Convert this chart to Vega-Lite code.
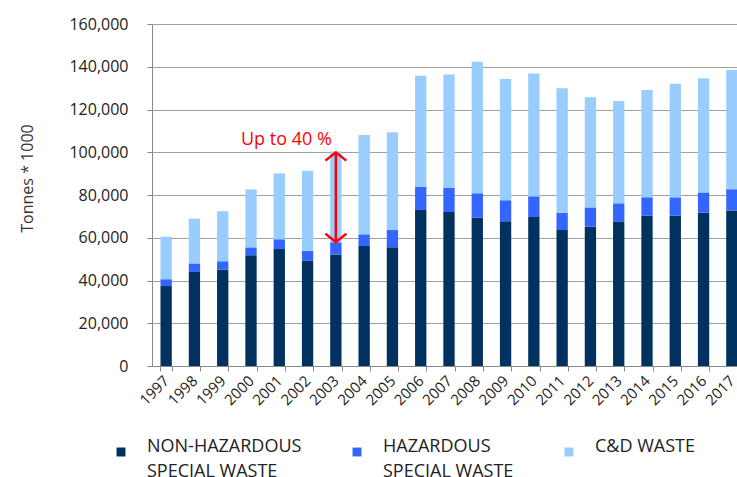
{
  "$schema": "https://vega.github.io/schema/vega-lite/v6.json",
  "autosize": {"type": "none"},
  "padding": {"left": 152, "top": 24, "right": 0, "bottom": 111},
  "width": 585,
  "height": 342,
  "background": "white",
  "config": {
    "view": {"stroke": null},
    "font": "Open Sans",
    "axis": {"labelFont": "Open Sans", "titleFont": "Open Sans"},
    "legend": {"labelFont": "Open Sans"},
    "style": {"guide-label": {"lineHeight": 25}}
  },
  "datasets": {
    "waste": [
      {"year": 1997, "type": "NON-HAZARDOUS|SPECIAL WASTE", "o": 1, "value": 37400},
      {"year": 1997, "type": "HAZARDOUS|SPECIAL WASTE", "o": 2, "value": 3200},
      {"year": 1997, "type": "C&D WASTE", "o": 3, "value": 19900},
      {"year": 1998, "type": "NON-HAZARDOUS|SPECIAL WASTE", "o": 1, "value": 44000},
      {"year": 1998, "type": "HAZARDOUS|SPECIAL WASTE", "o": 2, "value": 4000},
      {"year": 1998, "type": "C&D WASTE", "o": 3, "value": 20900},
      {"year": 1999, "type": "NON-HAZARDOUS|SPECIAL WASTE", "o": 1, "value": 45200},
      {"year": 1999, "type": "HAZARDOUS|SPECIAL WASTE", "o": 2, "value": 3800},
      {"year": 1999, "type": "C&D WASTE", "o": 3, "value": 23400},
      {"year": 2000, "type": "NON-HAZARDOUS|SPECIAL WASTE", "o": 1, "value": 51800},
      {"year": 2000, "type": "HAZARDOUS|SPECIAL WASTE", "o": 2, "value": 3700},
      {"year": 2000, "type": "C&D WASTE", "o": 3, "value": 27100},
      {"year": 2001, "type": "NON-HAZARDOUS|SPECIAL WASTE", "o": 1, "value": 54700},
      {"year": 2001, "type": "HAZARDOUS|SPECIAL WASTE", "o": 2, "value": 4600},
      {"year": 2001, "type": "C&D WASTE", "o": 3, "value": 30800},
      {"year": 2002, "type": "NON-HAZARDOUS|SPECIAL WASTE", "o": 1, "value": 49300},
      {"year": 2002, "type": "HAZARDOUS|SPECIAL WASTE", "o": 2, "value": 4600},
      {"year": 2002, "type": "C&D WASTE", "o": 3, "value": 37500},
      {"year": 2003, "type": "NON-HAZARDOUS|SPECIAL WASTE", "o": 1, "value": 52200},
      {"year": 2003, "type": "HAZARDOUS|SPECIAL WASTE", "o": 2, "value": 5700},
      {"year": 2003, "type": "C&D WASTE", "o": 3, "value": 42400},
      {"year": 2004, "type": "NON-HAZARDOUS|SPECIAL WASTE", "o": 1, "value": 56100},
      {"year": 2004, "type": "HAZARDOUS|SPECIAL WASTE", "o": 2, "value": 5500},
      {"year": 2004, "type": "C&D WASTE", "o": 3, "value": 46500},
      {"year": 2005, "type": "NON-HAZARDOUS|SPECIAL WASTE", "o": 1, "value": 55500},
      {"year": 2005, "type": "HAZARDOUS|SPECIAL WASTE", "o": 2, "value": 8100},
      {"year": 2005, "type": "C&D WASTE", "o": 3, "value": 45700},
      {"year": 2006, "type": "NON-HAZARDOUS|SPECIAL WASTE", "o": 1, "value": 73000},
      {"year": 2006, "type": "HAZARDOUS|SPECIAL WASTE", "o": 2, "value": 10900},
      {"year": 2006, "type": "C&D WASTE", "o": 3, "value": 51900},
      {"year": 2007, "type": "NON-HAZARDOUS|SPECIAL WASTE", "o": 1, "value": 72000},
      {"year": 2007, "type": "HAZARDOUS|SPECIAL WASTE", "o": 2, "value": 11400},
      {"year": 2007, "type": "C&D WASTE", "o": 3, "value": 53000},
      {"year": 2008, "type": "NON-HAZARDOUS|SPECIAL WASTE", "o": 1, "value": 69400},
      {"year": 2008, "type": "HAZARDOUS|SPECIAL WASTE", "o": 2, "value": 11400},
      {"year": 2008, "type": "C&D WASTE", "o": 3, "value": 61500},
      {"year": 2009, "type": "NON-HAZARDOUS|SPECIAL WASTE", "o": 1, "value": 67700},
      {"year": 2009, "type": "HAZARDOUS|SPECIAL WASTE", "o": 2, "value": 9800},
      {"year": 2009, "type": "C&D WASTE", "o": 3, "value": 56800},
      {"year": 2010, "type": "NON-HAZARDOUS|SPECIAL WASTE", "o": 1, "value": 69700},
      {"year": 2010, "type": "HAZARDOUS|SPECIAL WASTE", "o": 2, "value": 9700},
      {"year": 2010, "type": "C&D WASTE", "o": 3, "value": 57500},
      {"year": 2011, "type": "NON-HAZARDOUS|SPECIAL WASTE", "o": 1, "value": 63600},
      {"year": 2011, "type": "HAZARDOUS|SPECIAL WASTE", "o": 2, "value": 8100},
      {"year": 2011, "type": "C&D WASTE", "o": 3, "value": 58200},
      {"year": 2012, "type": "NON-HAZARDOUS|SPECIAL WASTE", "o": 1, "value": 65300},
      {"year": 2012, "type": "HAZARDOUS|SPECIAL WASTE", "o": 2, "value": 8900},
      {"year": 2012, "type": "C&D WASTE", "o": 3, "value": 51500},
      {"year": 2013, "type": "NON-HAZARDOUS|SPECIAL WASTE", "o": 1, "value": 67400},
      {"year": 2013, "type": "HAZARDOUS|SPECIAL WASTE", "o": 2, "value": 8700},
      {"year": 2013, "type": "C&D WASTE", "o": 3, "value": 47900},
      {"year": 2014, "type": "NON-HAZARDOUS|SPECIAL WASTE", "o": 1, "value": 70300},
      {"year": 2014, "type": "HAZARDOUS|SPECIAL WASTE", "o": 2, "value": 8600},
      {"year": 2014, "type": "C&D WASTE", "o": 3, "value": 50200},
      {"year": 2015, "type": "NON-HAZARDOUS|SPECIAL WASTE", "o": 1, "value": 70300},
      {"year": 2015, "type": "HAZARDOUS|SPECIAL WASTE", "o": 2, "value": 8600},
      {"year": 2015, "type": "C&D WASTE", "o": 3, "value": 53200},
      {"year": 2016, "type": "NON-HAZARDOUS|SPECIAL WASTE", "o": 1, "value": 71700},
      {"year": 2016, "type": "HAZARDOUS|SPECIAL WASTE", "o": 2, "value": 9500},
      {"year": 2016, "type": "C&D WASTE", "o": 3, "value": 53400},
      {"year": 2017, "type": "NON-HAZARDOUS|SPECIAL WASTE", "o": 1, "value": 72800},
      {"year": 2017, "type": "HAZARDOUS|SPECIAL WASTE", "o": 2, "value": 9900},
      {"year": 2017, "type": "C&D WASTE", "o": 3, "value": 55800}
    ],
    "note": [
      {"year": 2003, "lo": 58000, "hi": 100000, "labelY": 105700, "label": "Up to 40 %"}
    ]
  },
  "layer": [
    {
      "data": {"name": "waste"},
      "mark": {"type": "bar", "clip": true},
      "encoding": {
        "x": {
          "field": "year", "type": "ordinal",
          "scale": {"range": [0, 594], "paddingInner": 0.6, "paddingOuter": 0.3},
          "axis": {
            "title": null, "labelAngle": -45, "labelAlign": "right", "labelBaseline": "middle",
            "labelFontSize": 15, "labelColor": "#222", "labelPadding": 7,
            "tickBand": "extent", "tickSize": 5, "tickColor": "#888",
            "domainColor": "#888", "grid": false
          }
        },
        "y": {
          "field": "value", "type": "quantitative", "stack": "zero",
          "scale": {"domain": [0, 160000], "nice": false},
          "axis": {
            "title": "Tonnes * 1000", "titleFontSize": 16, "titleFontWeight": "normal", "titleColor": "#333",
            "titleX": -125, "titleY": 154, "titleAlign": "center", "titleBaseline": "middle",
            "values": [0, 20000, 40000, 60000, 80000, 100000, 120000, 140000, 160000],
            "format": ",.0f", "labelFontSize": 16, "labelColor": "#222", "labelPadding": 19,
            "tickSize": 5, "tickColor": "#888", "domainColor": "#888",
            "gridColor": "#a0a0a0", "gridWidth": 1.2
          }
        },
        "color": {
          "field": "type", "type": "nominal",
          "scale": {
            "domain": ["NON-HAZARDOUS|SPECIAL WASTE", "HAZARDOUS|SPECIAL WASTE", "C&D WASTE"],
            "range": ["#00315f", "#3366ff", "#99ccff"]
          },
          "legend": {
            "title": null, "orient": "none", "direction": "horizontal",
            "legendX": -40, "legendY": 419,
            "labelExpr": "datum.label == 'C&D WASTE' ? ['C&D WASTE', ' '] : split(datum.label, '|')",
            "labelFontSize": 18, "labelColor": "#222", "labelLimit": 300,
            "labelBaseline": "alphabetic", "labelOffset": 17,
            "symbolType": "square", "symbolSize": 80, "symbolStrokeWidth": 0,
            "columnPadding": 46, "padding": 0
          }
        },
        "order": {"field": "o", "type": "quantitative"}
      }
    },
    {
      "data": {"name": "note"},
      "mark": {"type": "rule", "color": "#ff0000", "strokeWidth": 2.5},
      "encoding": {
        "x": {"field": "year", "type": "ordinal"},
        "y": {"field": "hi", "type": "quantitative"},
        "y2": {"field": "lo"}
      }
    },
    {
      "data": {"name": "note"},
      "mark": {"type": "point", "shape": "M-1,0.8L0,0L1,0.8", "filled": false, "stroke": "#ff0000", "strokeWidth": 2.5, "size": 440, "opacity": 1},
      "encoding": {
        "x": {"field": "year", "type": "ordinal"},
        "y": {"field": "hi", "type": "quantitative"}
      }
    },
    {
      "data": {"name": "note"},
      "mark": {"type": "point", "shape": "M-1,-0.8L0,0L1,-0.8", "filled": false, "stroke": "#ff0000", "strokeWidth": 2.5, "size": 440, "opacity": 1},
      "encoding": {
        "x": {"field": "year", "type": "ordinal"},
        "y": {"field": "lo", "type": "quantitative"}
      }
    },
    {
      "data": {"name": "note"},
      "mark": {"type": "text", "color": "#ff0000", "fontSize": 18, "align": "right", "baseline": "middle", "dx": -4, "font": "Open Sans"},
      "encoding": {
        "x": {"field": "year", "type": "ordinal"},
        "y": {"field": "labelY", "type": "quantitative"},
        "text": {"field": "label"}
      }
    }
  ]
}
